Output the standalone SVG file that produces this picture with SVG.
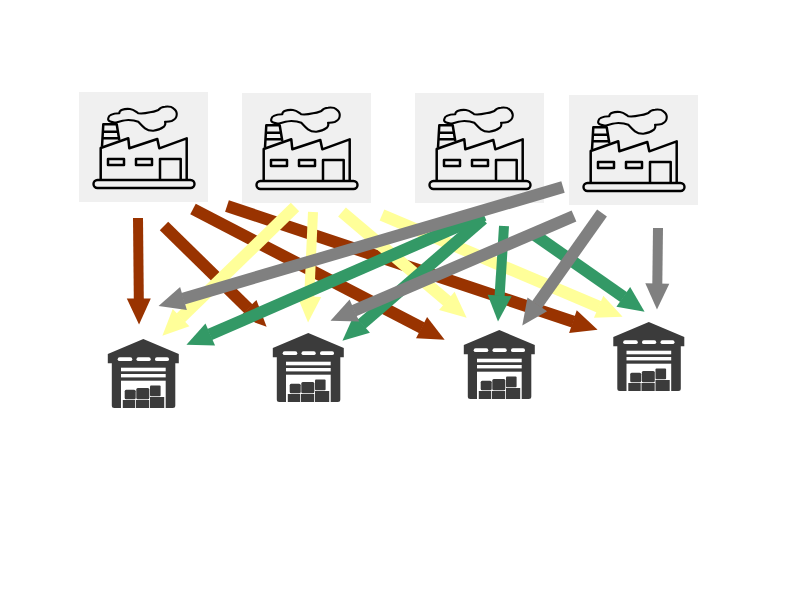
<svg xmlns="http://www.w3.org/2000/svg" width="800" height="600" viewBox="0 0 800 600">
<style>
.panel{fill:#f0f0f0}
.ln{fill:none;stroke:#000;stroke-width:2.5;stroke-linejoin:round}
.thin{fill:none;stroke:#000;stroke-width:2.1;stroke-linejoin:round}
.base{fill:#f0f0f0;stroke:#000;stroke-width:2.4}
.dark{fill:#3b3b3b}
.wh{fill:#fff}
.a{stroke-width:12;fill:none}
.v{stroke-width:10}
.br{stroke:#993300}.ye{stroke:#ffff99}.gr{stroke:#339966}.gy{stroke:#808080}
</style>
<defs>
<marker id="mbr" markerUnits="userSpaceOnUse" markerWidth="27" markerHeight="24" refX="0.5" refY="12" orient="auto" overflow="visible"><path d="M0,0L26,12L0,24z" fill="#993300"/></marker>
<marker id="mye" markerUnits="userSpaceOnUse" markerWidth="27" markerHeight="24" refX="0.5" refY="12" orient="auto" overflow="visible"><path d="M0,0L26,12L0,24z" fill="#ffff99"/></marker>
<marker id="mgr" markerUnits="userSpaceOnUse" markerWidth="27" markerHeight="24" refX="0.5" refY="12" orient="auto" overflow="visible"><path d="M0,0L26,12L0,24z" fill="#339966"/></marker>
<marker id="mgy" markerUnits="userSpaceOnUse" markerWidth="27" markerHeight="24" refX="0.5" refY="12" orient="auto" overflow="visible"><path d="M0,0L26,12L0,24z" fill="#808080"/></marker>
<g id="factory">
<rect class="panel" x="79" y="92" width="129" height="110"/>
<path class="ln" d="M100.7,179.5V148L128.3,138.3L129.3,148.3L157.3,139L159.3,148.3L186.7,138.3V179.5"/>
<rect class="ln" x="108" y="159" width="16" height="6"/>
<rect class="ln" x="136" y="159" width="16" height="6"/>
<path class="ln" d="M160,179.5V159H180.7V179.5"/>
<path class="ln" d="M102,146.7L103.3,124.3H116.7L119.3,140M103,131.7H118M102.3,138.3H119"/>
<path class="thin" d="M116.7,122.3C112,123 107,121 108.3,118.3C108.5,115 112,113.5 119.3,113.3C119,110 124,108.5 130,109C134,109.5 136,112 138.3,113.3C143,113.8 147,113 150,112.3C154,112 156,111 158.3,110C160,108 162,106.8 165,106.7C169,106.3 172,107 173.3,108.3C176,110 177,112.5 176.7,115C176.5,118 174,120 171.7,121C169,121.8 167,121.8 165,121.7C166,124 165,125.5 164,126.7C161,129 157,130.5 153.3,130.7C150,130.8 147,129.8 145,128.3C142,126 140,123.5 138.3,121.7C135,120.3 132,120 128.3,120C125,120 122,121 116.7,122.3Z"/>
<rect class="base" x="93.5" y="180" width="101" height="8" rx="4"/>
</g>
<g id="warehouse">
<path class="dark" d="M143.3,339L178.8,354V363.3H175.3V405.5Q175.3,408 172.8,408H114.3Q111.8,408 111.8,405.5V363.3H107.8V354Z"/>
<rect class="wh" x="117.7" y="357.3" width="14.6" height="3.8" rx="1.9"/>
<rect class="wh" x="136.5" y="357.3" width="14.2" height="3.8" rx="1.9"/>
<rect class="wh" x="155" y="357.3" width="14" height="3.8" rx="1.9"/>
<rect class="wh" x="121" y="367.7" width="44.7" height="3.6"/>
<rect class="wh" x="121" y="374" width="44.7" height="3.4"/>
<rect class="wh" x="121" y="380.7" width="44.7" height="27.3"/>
<rect class="dark" x="124.7" y="389.7" width="11" height="9.6" rx="1.5"/>
<rect class="dark" x="136.3" y="388" width="13" height="11.3" rx="1.5"/>
<rect class="dark" x="150" y="385.5" width="10.6" height="10.8" rx="1"/>
<rect class="dark" x="122.8" y="400" width="12.4" height="8"/>
<rect class="dark" x="136" y="400" width="13.2" height="8"/>
<rect class="dark" x="150" y="397" width="14.2" height="11"/>
</g>
</defs>
<g id="factory-1"><use href="#factory"/></g>
<g id="factory-2"><use href="#factory" x="163" y="1"/></g>
<g id="factory-3"><use href="#factory" x="336" y="1"/></g>
<g id="factory-4"><use href="#factory" x="490" y="3"/></g>
<g id="warehouse-1"><use href="#warehouse"/></g>
<g id="warehouse-2"><use href="#warehouse" x="165" y="-6"/></g>
<g id="warehouse-3"><use href="#warehouse" x="356" y="-9"/></g>
<g id="warehouse-4"><use href="#warehouse" x="505.5" y="-17"/></g>
<g id="connectors">
<line class="a v br" marker-end="url(#mbr)" x1="138" y1="218" x2="138.8" y2="299"/>
<line class="a br" marker-end="url(#mbr)" x1="164" y1="226" x2="248.4" y2="308.8"/>
<line class="a br" marker-end="url(#mbr)" x1="193" y1="209" x2="422" y2="327.9"/>
<line class="a br" marker-end="url(#mbr)" x1="227" y1="206" x2="573.4" y2="321.7"/>
<line class="a ye" marker-end="url(#mye)" x1="295" y1="207" x2="180.7" y2="317.9"/>
<line class="a v ye" marker-end="url(#mye)" x1="313" y1="212" x2="309.2" y2="297"/>
<line class="a ye" marker-end="url(#mye)" x1="342" y1="212" x2="447.2" y2="301.2"/>
<line class="a ye" marker-end="url(#mye)" x1="382" y1="215" x2="599.1" y2="306.9"/>
<line class="a gr" marker-end="url(#mgr)" x1="484" y1="215" x2="209.8" y2="334.6"/>
<line class="a gr" marker-end="url(#mgr)" x1="483" y1="219" x2="361.7" y2="324"/>
<line class="a v gr" marker-end="url(#mgr)" x1="504" y1="226" x2="499.6" y2="296"/>
<line class="a gr" marker-end="url(#mgr)" x1="532" y1="233" x2="623.7" y2="297.1"/>
<line class="a gy" marker-end="url(#mgy)" x1="563" y1="187" x2="183" y2="298.7"/>
<line class="a gy" marker-end="url(#mgy)" x1="574" y1="216" x2="353.9" y2="310.7"/>
<line class="a gy" marker-end="url(#mgy)" x1="602" y1="213" x2="537" y2="304.8"/>
<line class="a v gy" marker-end="url(#mgy)" x1="658" y1="228" x2="657.3" y2="284"/>
</g>
</svg>
